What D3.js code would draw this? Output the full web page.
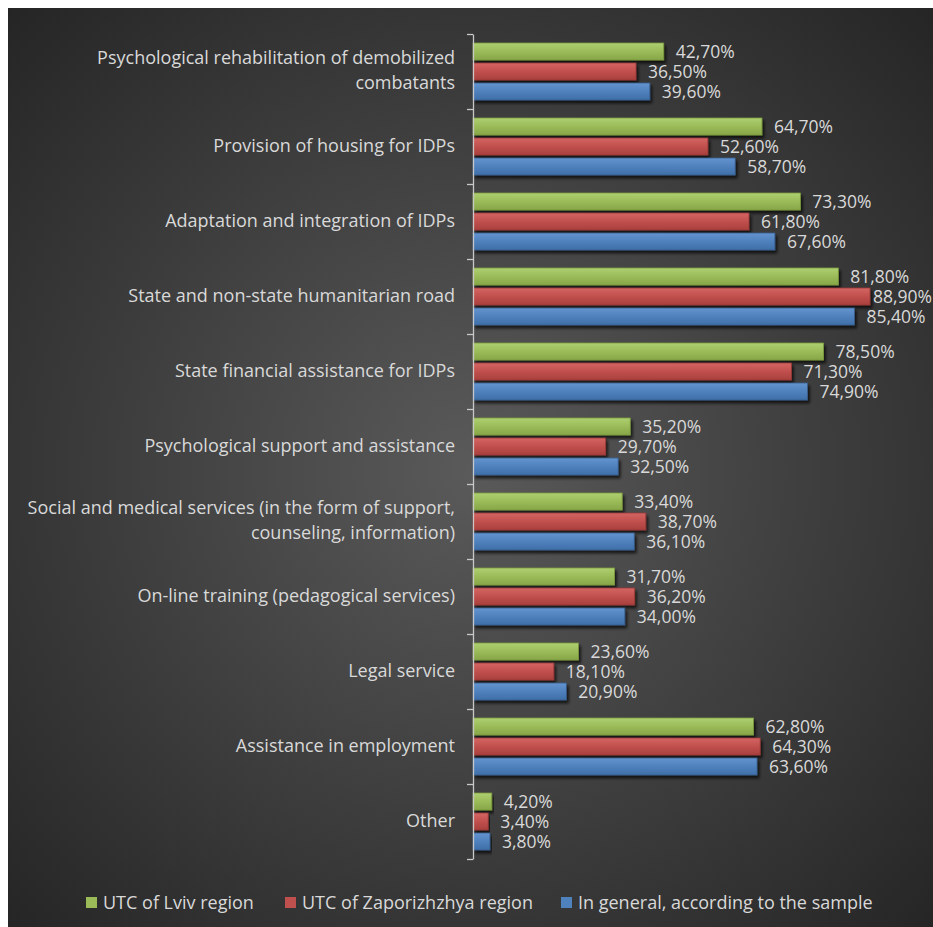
<!DOCTYPE html>
<html>
<head>
<meta charset="utf-8">
<script src="https://cdn.jsdelivr.net/npm/d3@7"></script>
<style>
  html, body { margin: 0; padding: 0; background: #ffffff; }
  svg { display: block; }
  text { font-family: "Open Sans", Lato, sans-serif; fill: #d9d9d9; }
</style>
</head>
<body>
<svg id="chart" width="933" height="927"></svg>
<script>
// Categories (top to bottom); "\n" marks a line break in the label
const categories = [
  "Psychological rehabilitation of demobilized\ncombatants",
  "Provision of housing for IDPs",
  "Adaptation and integration of IDPs",
  "State and non-state humanitarian road",
  "State financial assistance for IDPs",
  "Psychological support and assistance",
  "Social and medical services (in the form of support,\ncounseling, information)",
  "On-line training (pedagogical services)",
  "Legal service",
  "Assistance in employment",
  "Other"
];

const seriesNames = ["UTC of Lviv region", "UTC of Zaporizhzhya region", "In general, according to the sample"];

const lviv     = [42.7, 64.7, 73.3, 81.8, 78.5, 35.2, 33.4, 31.7, 23.6, 62.8, 4.2];
const zapor    = [36.5, 52.6, 61.8, 88.9, 71.3, 29.7, 38.7, 36.2, 18.1, 64.3, 3.4];
const general  = [39.6, 58.7, 67.6, 85.4, 74.9, 32.5, 36.1, 34.0, 20.9, 63.6, 3.8];

const seriesValues = [lviv, zapor, general];
const colors = ["#9bbb59", "#c0504d", "#4f81bd"];
const lightColors = ["#aed070", "#d46562", "#6494d0"];
const darkColors = ["#87a648", "#a9403d", "#3f6fa8"];
const borderColors = ["#7a9a3e", "#963a37", "#385d8a"];

const svg = d3.select("#chart");
const defs = svg.append("defs");

// Background radial gradient
const bg = defs.append("radialGradient")
  .attr("id", "bgGrad")
  .attr("gradientUnits", "userSpaceOnUse")
  .attr("cx", 470).attr("cy", 470).attr("r", 680);
bg.append("stop").attr("offset", "0%").attr("stop-color", "#5a5a5a");
bg.append("stop").attr("offset", "100%").attr("stop-color", "#232323");

// Vertical gradient for each series' bars
colors.forEach((c, i) => {
  const g = defs.append("linearGradient")
    .attr("id", "barGrad" + i)
    .attr("x1", 0).attr("y1", 0).attr("x2", 0).attr("y2", 1);
  g.append("stop").attr("offset", "0%").attr("stop-color", lightColors[i]);
  g.append("stop").attr("offset", "50%").attr("stop-color", c);
  g.append("stop").attr("offset", "100%").attr("stop-color", darkColors[i]);
});

// Soft drop shadow under bars
const shadow = defs.append("filter").attr("id", "shadow")
  .attr("x", "-5%").attr("y", "-40%").attr("width", "115%").attr("height", "200%");
shadow.append("feGaussianBlur").attr("in", "SourceAlpha").attr("stdDeviation", 1.6);
shadow.append("feOffset").attr("dx", 2).attr("dy", 3).attr("result", "off");
shadow.append("feComponentTransfer").append("feFuncA").attr("type", "linear").attr("slope", 0.7);
const merge = shadow.append("feMerge");
merge.append("feMergeNode");
merge.append("feMergeNode").attr("in", "SourceGraphic");

svg.append("rect")
  .attr("x", 8).attr("y", 8).attr("width", 925).attr("height", 919)
  .attr("fill", "url(#bgGrad)");

// Scales
const x = d3.scaleLinear().domain([0, 100]).range([473, 919.6]);
const y = d3.scaleBand().domain(d3.range(categories.length)).range([34, 859]).padding(0);
const ySeries = d3.scaleBand().domain(d3.range(seriesNames.length))
  .range([9, y.bandwidth() - 9]).paddingInner(0.15).paddingOuter(0);

const labelRight = 932; // value labels are kept inside the chart area

// Bars
const groups = svg.append("g").selectAll("g")
  .data(categories)
  .join("g")
  .attr("transform", (d, i) => `translate(0,${y(i)})`);

groups.each(function(cat, ci) {
  const g = d3.select(this);
  seriesValues.forEach((vals, si) => {
    const v = vals[ci];
    g.append("rect")
      .attr("x", x(0))
      .attr("y", ySeries(si))
      .attr("width", x(v) - x(0))
      .attr("height", ySeries.bandwidth())
      .attr("fill", `url(#barGrad${si})`)
      .attr("stroke", borderColors[si])
      .attr("stroke-width", 0.8)
      .attr("filter", "url(#shadow)");
    const t = g.append("text")
      .attr("x", x(v) + 12)
      .attr("y", ySeries(si) + ySeries.bandwidth() / 2)
      .attr("dy", "0.36em")
      .attr("font-size", 17.5)
      .text(v.toFixed(2).replace(".", ",") + "%");
    const w = t.node().getComputedTextLength();
    if (x(v) + 12 + w > labelRight) t.attr("x", labelRight - w);
  });
});

// Category axis with ticks at category boundaries
const yEdges = d3.scaleLinear().domain([0, categories.length]).range([34, 859]);
const axis = svg.append("g")
  .attr("transform", `translate(${x(0)},0)`)
  .call(d3.axisLeft(yEdges).tickValues(d3.range(categories.length + 1))
    .tickSize(6).tickSizeOuter(0).tickFormat(""));
axis.selectAll("path, line").attr("stroke", "#c8c8c8").attr("stroke-width", 1.3);

// Category labels
const labels = svg.append("g").selectAll("text")
  .data(categories)
  .join("text")
  .attr("text-anchor", "end")
  .attr("font-size", 18)
  .attr("x", 455);
labels.each(function(d, i) {
  const lines = d.split("\n");
  const cy = y(i) + y.bandwidth() / 2;
  const lh = 25;
  const t = d3.select(this);
  lines.forEach((ln, li) => {
    t.append("tspan")
      .attr("x", 455)
      .attr("y", cy - (lines.length - 1) * lh / 2 + li * lh - 1)
      .attr("dy", "0.36em")
      .text(ln);
  });
});

// Legend
const legendX = [86, 285, 561];
const legend = svg.append("g").selectAll("g")
  .data(seriesNames)
  .join("g")
  .attr("transform", (d, i) => `translate(${legendX[i]},903)`);
legend.append("rect")
  .attr("x", 0).attr("y", -6).attr("width", 11).attr("height", 11)
  .attr("fill", (d, i) => colors[i]);
legend.append("text")
  .attr("x", 17).attr("y", 0).attr("dy", "0.36em")
  .attr("font-size", 18)
  .text(d => d);
</script>
</body>
</html>
